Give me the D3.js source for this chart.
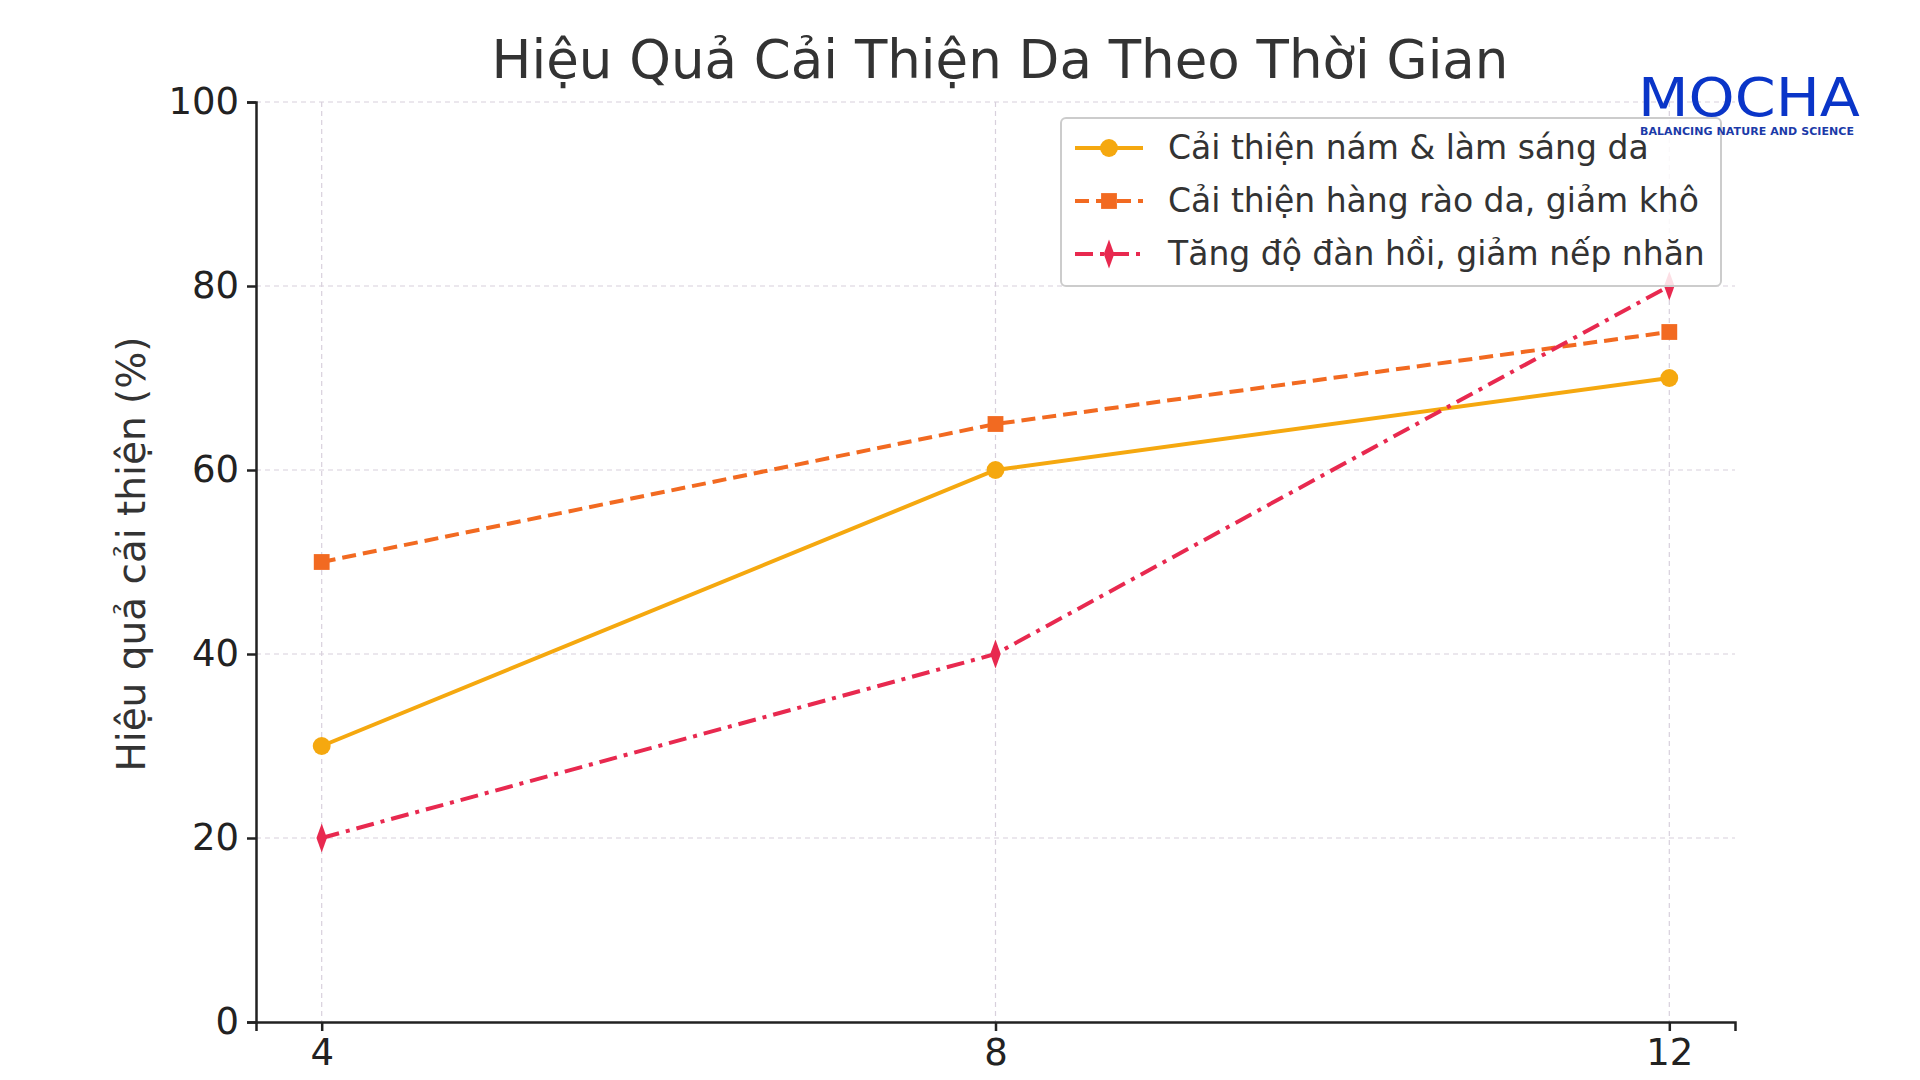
<!DOCTYPE html>
<html><head><meta charset="utf-8">
<script src="https://cdn.jsdelivr.net/npm/d3@7"></script>
<style>body{margin:0;background:#fff}svg{display:block}text{font-family:"DejaVu Sans",sans-serif}</style>
</head><body><svg id="c" width="1920" height="1080"></svg>
<script>
const weeks = [4, 8, 12];
const seriesNames = ["Cải thiện nám & làm sáng da","Cải thiện hàng rào da, giảm khô","Tăng độ đàn hồi, giảm nếp nhăn"];
const melasma = [30, 60, 70];
const barrier = [50, 65, 75];
const elasticity = [20, 40, 80];
const yTicks = [0, 20, 40, 60, 80, 100];
const colors = ["#f5a80f", "#f26a21", "#e8294f"];
const dashes = [null, "14,7", "18,7,4,7"];
const symbols = [d3.symbolCircle, d3.symbolSquare, d3.symbolDiamond];
const data = [melasma, barrier, elasticity];

const svg = d3.select("#c");
const L=256,R=1735,T=102,B=1022;
const x = d3.scaleLinear().domain([3.61,12.39]).range([L,R]);
const y = d3.scaleLinear().domain([0,100]).range([B,T]);

const grid = svg.append("g").attr("stroke","#d8d0dc").attr("stroke-width",1.2).attr("stroke-dasharray","5,4");
yTicks.slice(1).forEach(t=>grid.append("line").attr("x1",L).attr("x2",R).attr("y1",y(t)).attr("y2",y(t)));
weeks.forEach(t=>grid.append("line").attr("x1",x(t)).attr("x2",x(t)).attr("y1",T).attr("y2",B));

const ya = svg.append("g").attr("transform",`translate(${L},0)`).call(d3.axisLeft(y).tickValues(yTicks).tickSize(9).tickPadding(8));
const xa = svg.append("g").attr("transform",`translate(0,${B})`).call(d3.axisBottom(x).tickValues(weeks).tickSize(9).tickPadding(8));
[ya,xa].forEach(a=>{a.selectAll("text").attr("font-size",37).attr("fill","#222");a.selectAll("line,path").attr("stroke","#222").attr("stroke-width",2.5);});

svg.append("text").attr("x",1000).attr("y",78).attr("text-anchor","middle").attr("font-size",53).attr("fill","#333").text("Hiệu Quả Cải Thiện Da Theo Thời Gian");
svg.append("text").attr("transform",`translate(145,${(T+B)/2-8}) rotate(-90)`).attr("text-anchor","middle").attr("font-size",39).attr("fill","#333").text("Hiệu quả cải thiện (%)");

const line = d3.line().x((d,i)=>x(weeks[i])).y(d=>y(d));
data.forEach((s,k)=>{
  svg.append("path").datum(s).attr("d",line).attr("fill","none").attr("stroke",colors[k]).attr("stroke-width",4).attr("stroke-dasharray",dashes[k]);
  svg.selectAll(null).data(s).enter().append("path")
    .attr("d",d3.symbol(symbols[k], k==2?170:250)).attr("fill",colors[k])
    .attr("transform",(d,i)=>`translate(${x(weeks[i])},${y(d)})${k==2?" scale(0.75,1.2)":""}`);
});

const lg = svg.append("g");
lg.append("rect").attr("x",1061).attr("y",118).attr("width",660).attr("height",168).attr("rx",5).attr("fill","#fff").attr("fill-opacity",0.85).attr("stroke","#ccc").attr("stroke-width",2);
seriesNames.forEach((n,k)=>{
  const yy=148+k*53;
  lg.append("line").attr("x1",1075).attr("x2",1143).attr("y1",yy).attr("y2",yy).attr("stroke",colors[k]).attr("stroke-width",4).attr("stroke-dasharray",dashes[k]);
  lg.append("path").attr("d",d3.symbol(symbols[k],k==2?170:250)).attr("fill",colors[k]).attr("transform",`translate(1109,${yy})${k==2?" scale(0.75,1.2)":""}`);
  lg.append("text").attr("x",1168).attr("y",yy+11).attr("font-size",33).attr("fill","#333").text(n);
});

const logo = svg.append("g");
logo.append("text").attr("x",1638).attr("y",116).attr("font-family","Lato, sans-serif").attr("font-size",54).attr("fill","#0a35c8").attr("textLength",222).attr("lengthAdjust","spacingAndGlyphs").text("MOCHA");
logo.append("text").attr("x",1640).attr("y",135).attr("font-family","Lato, sans-serif").attr("font-weight","bold").attr("font-size",11).attr("fill","#1b3aa8").attr("textLength",214).text("BALANCING NATURE AND SCIENCE");
</script></body></html>
